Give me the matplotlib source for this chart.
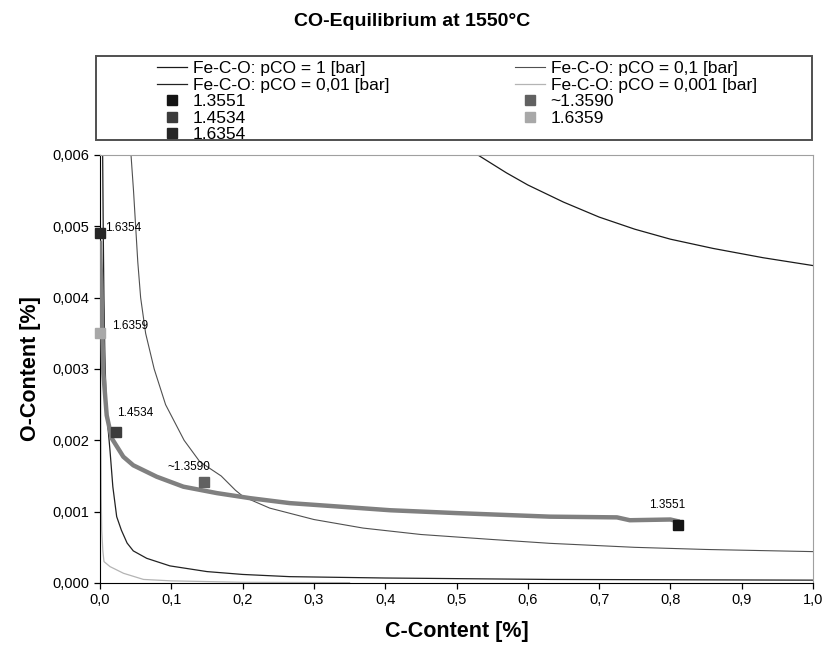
import matplotlib
matplotlib.use("Agg")
import matplotlib.pyplot as plt
from matplotlib.patches import Rectangle
from matplotlib.ticker import FuncFormatter, MultipleLocator

plt.rcParams['font.family'] = ['Liberation Sans', 'DejaVu Sans']

# equilibrium lines (C-content [%], O-content [%])
c_pco_1 = [0.53, 0.57, 0.60, 0.65, 0.70, 0.75, 0.80, 0.86, 0.93, 1.0]
o_pco_1 = [0.0060, 0.00575, 0.00558, 0.00534, 0.00513, 0.00496, 0.00482, 0.00469, 0.00456, 0.00445]

c_pco_01 = [0.0435, 0.047, 0.050, 0.053, 0.057, 0.064, 0.076, 0.092, 0.118, 0.14, 0.17,
            0.19, 0.201, 0.238, 0.30, 0.369, 0.45, 0.55, 0.631, 0.75, 0.85, 1.0]
o_pco_01 = [0.0060, 0.0055, 0.0050, 0.0045, 0.0040, 0.0035, 0.0030, 0.0025, 0.0020, 0.0017, 0.0015,
            0.0013, 0.00121, 0.00105, 0.00089, 0.00077, 0.00068, 0.00061, 0.000556, 0.0005, 0.00047, 0.00044]

c_pco_001 = [0.0035, 0.0045, 0.0055, 0.0068, 0.0085, 0.011, 0.014, 0.018, 0.0234, 0.030,
             0.038, 0.0467, 0.0655, 0.098, 0.15, 0.2, 0.266, 0.4, 0.63, 1.0]
o_pco_001 = [0.0063, 0.0050, 0.0040, 0.0032, 0.0026, 0.0022, 0.00186, 0.00135, 0.00093, 0.00074,
             0.00056, 0.00045, 0.000346, 0.00024, 0.00016, 0.00012, 0.000089, 0.00007, 0.00005, 0.00004]

c_pco_0001 = [0.0003, 0.0005, 0.001, 0.0017, 0.0024, 0.0040, 0.0056, 0.014, 0.033,
              0.061, 0.10, 0.2, 0.35]
o_pco_0001 = [0.0063, 0.0040, 0.0025, 0.0012, 0.00074, 0.00045, 0.0003, 0.00023, 0.000136,
              0.00005, 0.00003, 0.00001, 0.000005]

# measured path (thick grey line)
c_path = [0.0, 0.0024, 0.0047, 0.0094, 0.0164, 0.0327, 0.0467, 0.0795, 0.117, 0.164,
          0.21, 0.266, 0.337, 0.407, 0.5, 0.631, 0.725, 0.743, 0.80, 0.813]
o_path = [0.0048, 0.00387, 0.00294, 0.00235, 0.00203, 0.00177, 0.00165, 0.00149, 0.00135, 0.00126,
          0.00119, 0.00112, 0.00107, 0.00102, 0.00098, 0.00093, 0.00092, 0.00088, 0.00089, 0.00086]

# single points
pt_labels = ['1.3551', '1.4534', '1.6354', '~1.3590', '1.6359']
pt_c = [0.81, 0.022, 0.0, 0.146, 0.0]
pt_o = [0.00081, 0.00211, 0.0049, 0.00142, 0.00351]
pt_colors = ['#141414', '#3c3c3c', '#262626', '#616161', '#a8a8a8']

line_labels = ['Fe-C-O: pCO = 1 [bar]', 'Fe-C-O: pCO = 0,1 [bar]',
               'Fe-C-O: pCO = 0,01 [bar]', 'Fe-C-O: pCO = 0,001 [bar]']

W, H = 825, 651
fig = plt.figure(figsize=(W / 100, H / 100), dpi=100)
ax = fig.add_axes([100 / W, 1 - 583 / H, 713 / W, 428 / H])

l1, = ax.plot(c_pco_1, o_pco_1, color='#1a1a1a', lw=0.9)
l2, = ax.plot(c_pco_01, o_pco_01, color='#505050', lw=0.8)
l3, = ax.plot(c_pco_001, o_pco_001, color='#222222', lw=0.9)
l4, = ax.plot(c_pco_0001, o_pco_0001, color='#b4b4b4', lw=0.9)
ax.plot(c_path, o_path, color='#808080', lw=3.2, solid_capstyle='butt', zorder=3)

pts = []
for c, o, col in zip(pt_c, pt_o, pt_colors):
    h, = ax.plot([c], [o], 's', ms=7.5, color=col, mec=col, clip_on=False, zorder=5)
    pts.append(h)

# point labels
ax.text(0.795, 0.00110, '1.3551', fontsize=8.5, ha='center', va='center')
ax.text(0.049, 0.00238, '1.4534', fontsize=8.5, ha='center', va='center')
ax.text(0.007, 0.00497, '1.6354', fontsize=8.5, ha='left', va='center')
ax.text(0.125, 0.00163, '~1.3590', fontsize=8.5, ha='center', va='center')
ax.text(0.0164, 0.00360, '1.6359', fontsize=8.5, ha='left', va='center')

ax.set_xlim(0, 1.0)
ax.set_ylim(0, 0.006)
ax.xaxis.set_major_locator(MultipleLocator(0.1))
ax.yaxis.set_major_locator(MultipleLocator(0.001))
ax.xaxis.set_major_formatter(FuncFormatter(lambda v, p: f"{v:.1f}".replace('.', ',')))
ax.yaxis.set_major_formatter(FuncFormatter(lambda v, p: f"{v:.3f}".replace('.', ',')))
ax.tick_params(direction='out', length=4, width=0.9, labelsize=10.5, color='black')
for s in ['top', 'right']:
    ax.spines[s].set_color('#a0a0a0')
for s in ['left', 'bottom']:
    ax.spines[s].set_color('black')

ax.set_xlabel('C-Content [%]', fontsize=15.5, fontweight='bold', labelpad=10)
ax.set_ylabel('O-Content [%]', fontsize=15.5, fontweight='bold', labelpad=8)
fig.text(0.5, 1 - 21 / H, 'CO-Equilibrium at 1550°C', fontsize=14, fontweight='bold',
         ha='center', va='center')

# legend box and two columns
fig.patches.append(Rectangle((96 / W, 1 - 140 / H), 716 / W, 84 / H, transform=fig.transFigure,
                             fill=False, edgecolor='#505050', lw=1.4))
leg_kw = dict(frameon=False, fontsize=12.5, handlelength=1.75, handletextpad=0.3,
              labelspacing=0.08, borderpad=0, borderaxespad=0, loc='upper left')
leg1 = fig.legend([l1, l3, pts[0], pts[1], pts[2]],
                  [line_labels[0], line_labels[2], pt_labels[0], pt_labels[1], pt_labels[2]],
                  bbox_to_anchor=(157 / W, 1 - 61 / H), **leg_kw)
leg2 = fig.legend([l2, l4, pts[3], pts[4]],
                  [line_labels[1], line_labels[3], pt_labels[3], pt_labels[4]],
                  bbox_to_anchor=(515 / W, 1 - 61 / H), **leg_kw)

fig.savefig('out.png', dpi=100)
